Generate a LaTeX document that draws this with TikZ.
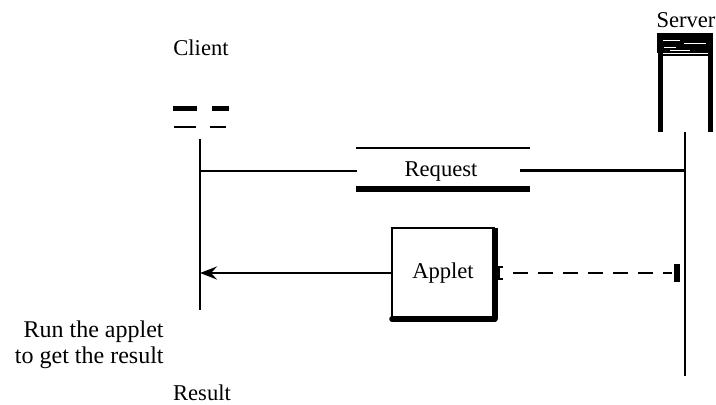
\documentclass[tikz,border=0pt]{standalone}
\usepackage{fontspec}
\setmainfont{Liberation Serif}
\usetikzlibrary{arrows.meta}
\begin{document}
\begin{tikzpicture}[x=0.5pt,y=-0.5pt,
  lbl/.style={font=\fontsize{11.3}{13.5}\selectfont, inner sep=0pt},
  thinln/.style={line width=0.6pt},
  midln/.style={line width=1pt},
  thickln/.style={line width=2.8pt}]
\useasboundingbox (0,0) rectangle (716,405);
% labels
\node[lbl] (client) at (201,48) {Client};
\node[lbl] (server) at (686,20) {Server};
\node[lbl] (request) at (441,172) {Request};
\node[lbl] (applet) at (443,273) {Applet};
\node[lbl, font=\fontsize{12}{13}\selectfont, align=right, anchor=east] (run) at (164,345) {Run the applet\\to get the result};
\node[lbl] (result) at (202,393) {Result};
% client head marks
\draw[line width=2.5pt] (173,109) -- (197,109);
\draw[line width=2.5pt] (212,109) -- (229,109);
\draw[thinln] (174,127) -- (196,127);
\draw[thinln] (210,127) -- (226,127);
% lifelines
\coordinate (ctop) at (200,139);
\coordinate (cbot) at (200,310);
\coordinate (stop) at (685,132);
\coordinate (sbot) at (685,376);
\draw[midln] (ctop) -- (cbot);
\draw[midln] (stop) -- (sbot);
% server head
\fill (657,33) rectangle (713,53);
\draw[white, line width=0.4pt] (662,40) -- (680,40) (684,43) -- (706,43) (664,47) -- (676,47) (670,50) -- (690,50);
\draw[thinln] (660,55) -- (710,55);
\draw[line width=2.8pt] (660.5,33) -- (660.5,132);
\draw[line width=2.8pt] (710.5,33) -- (710.5,132);
% request
\coordinate (rq1) at (200,171);
\coordinate (rq2) at (357,171);
\coordinate (rq3) at (520,171);
\coordinate (rq4) at (685,171);
\draw[midln] (rq1) -- (rq2);
\draw[line width=1.5pt] (rq3) -- (rq4);
\draw[thinln] (356,148) -- (530,148);
\draw[line width=3pt] (356,189) -- (530,189);
% applet box
\coordinate (bl) at (392,228);
\coordinate (br) at (495,228);
\coordinate (bbl) at (392,319);
\coordinate (bbr) at (495,319);
\draw[midln] (bbl) -- (bl) -- (br);
\draw[line width=2.6pt] (br) -- (bbr);
\draw[line width=2.8pt, line cap=round] (bbl) -- (bbr);
% arrow
\coordinate (aL) at (200,273);
\coordinate (aR) at (392,273);
\draw[line width=1.1pt, -{Stealth[length=8.5pt,width=6.5pt,inset=3pt]}] (aR) -- (aL);
\draw[line width=1pt] (200,265) -- (200,281);
\draw[line width=0.8pt] (392,266) -- (392,280);
% right side
\draw[line width=2.5pt] (497,267) -- (497,279);
\draw[line width=0.6pt] (497,267) -- (503,267) (497,279) -- (503,279);
\coordinate (dL) at (513,273);
\coordinate (dR) at (672,273);
\draw[line width=0.8pt, dash pattern=on 7.5pt off 5pt] (dL) -- (dR);
\draw[line width=3pt] (677,264) -- (677,282);
\end{tikzpicture}
\end{document}
